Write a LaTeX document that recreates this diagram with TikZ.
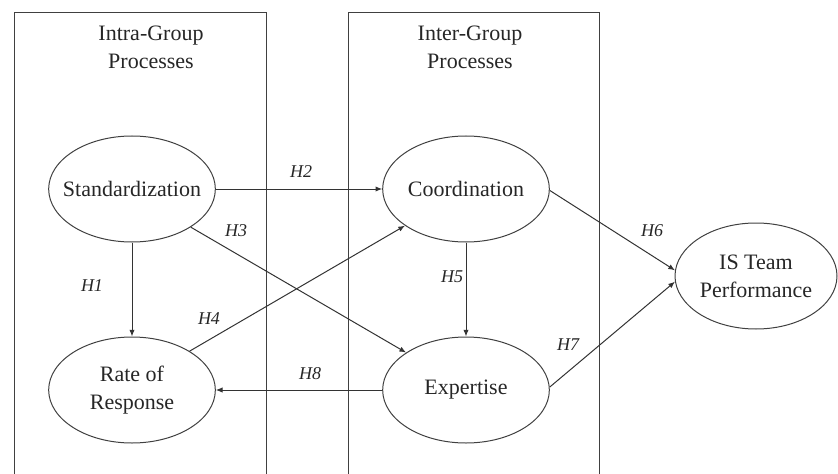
\documentclass[tikz,border=0pt]{standalone}
\usepackage{fontspec}
\setmainfont{Liberation Serif}
\usetikzlibrary{shapes.geometric,arrows.meta}

\tikzset{
  latent/.style={ellipse, draw=black!75, line width=0.75pt, minimum width=125pt, minimum height=79.5pt, inner sep=0pt},
  path/.style={draw=black!80, line width=0.75pt, -{Latex[length=5pt,width=4pt]}},
  hyp/.style={font=\itshape\fontsize{13.5}{16}\selectfont, text=black!85, inner sep=0.75pt}
}

\begin{document}
\begin{tikzpicture}[x=0.75pt,y=0.75pt,yscale=-1,xscale=1, font=\fontsize{16.5}{21}\selectfont, text=black!85]
\useasboundingbox (0,0) rectangle (838,474);
%Shape: Open Rectangle (intra)
\draw [black!75, line width=0.75pt] (14,474) -- (14,13) -- (266,13) -- (266,474) ;
%Shape: Open Rectangle (inter)
\draw [black!75, line width=0.75pt] (348,474) -- (348,13) -- (599,13) -- (599,474) ;
% Text Node
\node (intra) at (151,47) [align=center, inner sep=0.75pt] {Intra-Group\\Processes};
% Text Node
\node (inter) at (470,47) [align=center, inner sep=0.75pt] {Inter-Group\\Processes};
%Shape: Ellipse
\node (std) at (132,189) [latent, label=center:{Standardization}] {};
%Shape: Ellipse
\node (rate) at (132,390) [latent, label={[align=center]center:Rate of\\Response}] {};
%Shape: Ellipse
\node (coord) at (466,189) [latent, label=center:{Coordination}] {};
%Shape: Ellipse
\node (exp) at (466,390) [latent, label=center:{Expertise}] {};
%Shape: Ellipse
\node (perf) at (756,276) [latent, minimum width=121.5pt, label={[align=center]center:IS Team\\Performance}] {};
%Straight Lines
\draw [path] (std.south) -- (rate.north) ;
\draw [path] (std.east) -- (coord.west) ;
\draw [path] (std.-33) -- (exp.148) ;
\draw [path] (rate.34) -- (coord.211) ;
\draw [path] (coord.south) -- (exp.north) ;
\draw [path] (coord.-1) -- (perf.176) ;
\draw [path] (exp.2) -- (perf.184) ;
\draw [path] (exp.180) -- (rate.0) ;
% Text Node
\node (h1) at (92,286) [hyp] {H1};
\node (h2) at (301,172) [hyp] {H2};
\node (h3) at (236,231) [hyp] {H3};
\node (h4) at (209,319) [hyp] {H4};
\node (h5) at (452,277) [hyp] {H5};
\node (h6) at (652,231) [hyp] {H6};
\node (h7) at (568,345) [hyp] {H7};
\node (h8) at (310,374) [hyp] {H8};
\end{tikzpicture}
\end{document}
